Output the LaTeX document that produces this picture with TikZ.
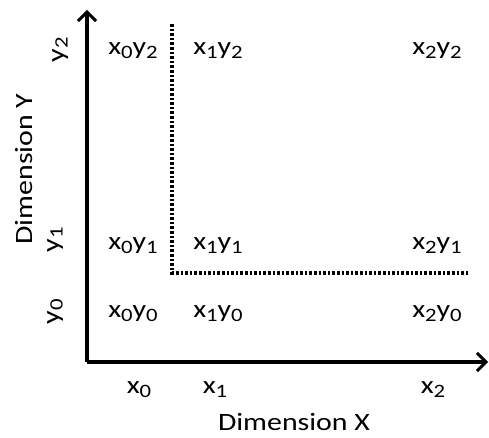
\documentclass[tikz,border=0pt]{standalone}
\usepackage{fontspec}
\setmainfont{Carlito}[FakeStretch=1.2]
\usetikzlibrary{arrows.meta,positioning}

\newcommand{\lo}[1]{\raisebox{-3.5bp}{\fontsize{19}{19}\selectfont #1}}

\begin{document}
\begin{tikzpicture}[
    x=1bp, y=1bp,
    lbl/.style={font=\fontsize{25}{27}\selectfont, inner sep=0pt, anchor=base},
    ttl/.style={font=\fontsize{25}{27}\selectfont, inner sep=0pt, anchor=base},
    axis/.style={line width=3.4bp, -{Straight Barb[length=9bp,width=18bp,line width=3bp]}},
    split/.style={line width=3.2bp, dash pattern=on 2.6bp off 2bp}
]
\useasboundingbox (0,0) rectangle (489,438);

% axes
\coordinate (o) at (87,76);
\coordinate (ytop) at (87,428);
\coordinate (xend) at (488,76);
\draw[axis] (o) -- (ytop);
\draw[axis] (o) -- (xend);

% dotted split
\coordinate (s1) at (172,414);
\coordinate (s2) at (172,165);
\coordinate (s3) at (470,165);
\draw[split] (s1) -- (s2) -- (s3);

% cells
\node[lbl] (x0y2) at (133,383) {x\lo{0}y\lo{2}};
\node[lbl] (x1y2) at (218,383) {x\lo{1}y\lo{2}};
\node[lbl] (x2y2) at (437,383) {x\lo{2}y\lo{2}};
\node[lbl] (x0y1) at (133,188) {x\lo{0}y\lo{1}};
\node[lbl] (x1y1) at (218,188) {x\lo{1}y\lo{1}};
\node[lbl] (x2y1) at (437,188) {x\lo{2}y\lo{1}};
\node[lbl] (x0y0) at (133,120) {x\lo{0}y\lo{0}};
\node[lbl] (x1y0) at (218,120) {x\lo{1}y\lo{0}};
\node[lbl] (x2y0) at (437,120) {x\lo{2}y\lo{0}};

% ticks
\node[lbl] (tx0) at (139,44) {x\lo{0}};
\node[lbl] (tx1) at (215,44) {x\lo{1}};
\node[lbl] (tx2) at (433,44) {x\lo{2}};
\node[lbl, rotate=90] (ty2) at (64,388) {y\lo{2}};
\node[lbl, rotate=90] (ty1) at (59,198) {y\lo{1}};
\node[lbl, rotate=90] (ty0) at (59,126) {y\lo{0}};

% titles
\node[ttl] (dimx) at (294,7) {Dimension X};
\node[ttl, rotate=90] (dimy) at (32,269) {Dimension Y};
\end{tikzpicture}
\end{document}
